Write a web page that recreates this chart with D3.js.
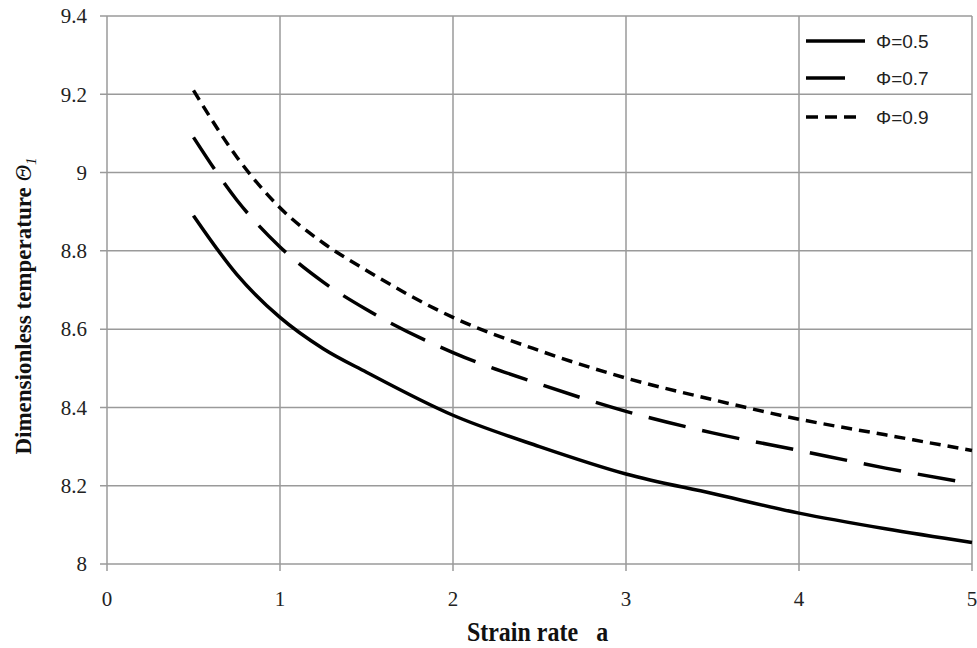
<!DOCTYPE html>
<html><head><meta charset="utf-8">
<script src="https://cdn.jsdelivr.net/npm/d3@7"></script>
<style>body{margin:0;background:#fff}svg{display:block}</style>
</head><body>
<svg id="chart" width="977" height="648"></svg>
<script>
const strainRate = [0.5, 0.75, 1, 1.25, 1.5, 2, 2.5, 3, 3.5, 4, 4.5, 5];
const phi05 = [8.89, 8.74, 8.63, 8.55, 8.49, 8.38, 8.30, 8.23, 8.18, 8.13, 8.09, 8.055];
const phi07 = [9.09, 8.93, 8.81, 8.72, 8.65, 8.54, 8.46, 8.39, 8.335, 8.29, 8.245, 8.205];
const phi09 = [9.21, 9.04, 8.91, 8.82, 8.75, 8.63, 8.545, 8.475, 8.42, 8.37, 8.33, 8.29];
const seriesNames = ["Φ=0.5", "Φ=0.7", "Φ=0.9"];
const xTicks = [0, 1, 2, 3, 4, 5];
const yTicks = [8, 8.2, 8.4, 8.6, 8.8, 9, 9.2, 9.4];

const series = [
  {name: seriesNames[0], values: phi05, dash: null},
  {name: seriesNames[1], values: phi07, dash: "38,17"},
  {name: seriesNames[2], values: phi09, dash: "11,7"}
];

const svg = d3.select("#chart");
const L = 107, R = 972, T = 16, B = 564;
const x = d3.scaleLinear().domain([0, 5]).range([L, R]);
const y = d3.scaleLinear().domain([8, 9.4]).range([B, T]);
const grid = "#9a9a9a";

// grid
svg.append("g").selectAll("line").data(yTicks).join("line")
  .attr("x1", L - 7).attr("x2", R).attr("y1", d => y(d)).attr("y2", d => y(d))
  .attr("stroke", grid).attr("stroke-width", 1.5);
svg.append("g").selectAll("line").data(xTicks).join("line")
  .attr("y1", T).attr("y2", B + 7).attr("x1", d => x(d)).attr("x2", d => x(d))
  .attr("stroke", grid).attr("stroke-width", 1.5);

// tick labels
svg.append("g").selectAll("text").data(yTicks).join("text")
  .attr("x", L - 20).attr("y", d => y(d)).attr("dy", "0.35em")
  .attr("text-anchor", "end")
  .style("font", "21px 'Liberation Serif', serif").attr("fill", "#222")
  .text(d => d3.format("~g")(d));
svg.append("g").selectAll("text").data(xTicks).join("text")
  .attr("x", d => x(d)).attr("y", 606)
  .attr("text-anchor", "middle")
  .style("font", "21px 'Liberation Serif', serif").attr("fill", "#222")
  .text(d => d);

// lines
const line = d3.line().curve(d3.curveMonotoneX)
  .x((d, i) => x(strainRate[i])).y(d => y(d));
svg.append("g").selectAll("path").data(series).join("path")
  .attr("d", d => line(d.values))
  .attr("fill", "none").attr("stroke", "#000").attr("stroke-width", 3.5)
  .attr("stroke-dasharray", d => d.dash);

// legend
const lg = svg.append("g");
const legY = [41, 78, 117];
const legLen = [59, 39, 54];
series.forEach((s, i) => {
  lg.append("line").attr("x1", 806).attr("x2", 806 + legLen[i])
    .attr("y1", legY[i]).attr("y2", legY[i])
    .attr("stroke", "#000").attr("stroke-width", 3.5)
    .attr("stroke-dasharray", i === 2 ? "12,7" : null);
  lg.append("text").attr("x", 876).attr("y", legY[i]).attr("dy", "0.35em")
    .style("font", "19px 'Liberation Sans', Arial, sans-serif").attr("fill", "#222")
    .text(s.name);
});

// axis titles
svg.append("text").attr("transform", `translate(${(L + R) / 2 - 2},641) scale(1,1.1)`)
  .attr("text-anchor", "middle")
  .style("font", "bold 24px 'Liberation Serif', serif").attr("fill", "#111")
  .attr("xml:space", "preserve")
  .text("Strain rate   a");
const yt = svg.append("text")
  .attr("transform", `translate(31,306) rotate(-90)`)
  .attr("text-anchor", "middle")
  .style("font", "bold 23px 'Liberation Serif', serif").attr("fill", "#111");
yt.append("tspan").text("Dimensionless temperature ");
yt.append("tspan").style("font-style", "italic").style("font-weight", "normal").text("Θ");
yt.append("tspan").style("font-style", "italic").style("font-weight", "normal")
  .style("font-size", "15px").attr("dy", 5).text("1");
</script>
</body></html>
